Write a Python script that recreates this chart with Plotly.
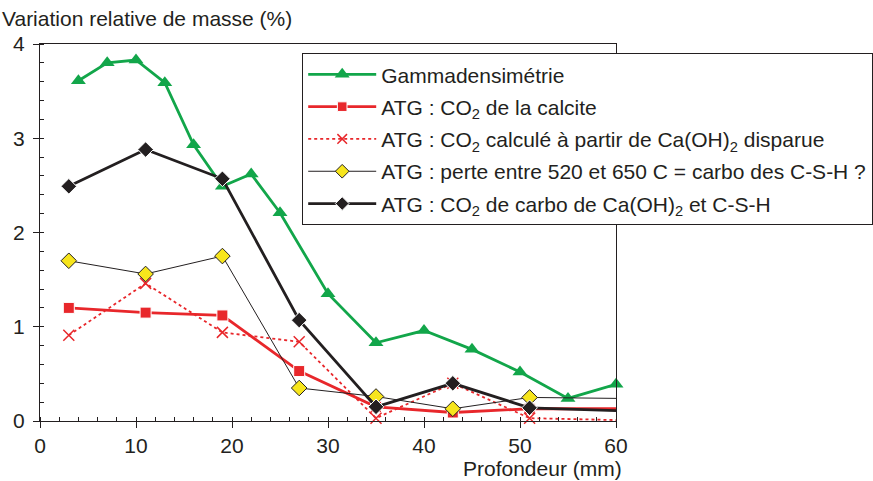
import plotly.graph_objects as go

# Data
gamma_x = [4, 7, 10, 13, 16, 19, 22, 25, 30, 35, 40, 45, 50, 55, 60]
gamma_y = [3.61, 3.80, 3.83, 3.59, 2.93, 2.49, 2.62, 2.21, 1.35, 0.83, 0.96, 0.76, 0.52, 0.24, 0.39]

calc_x = [3, 11, 19, 27, 35, 43, 51, 60]
calc_y = [1.20, 1.15, 1.12, 0.53, 0.15, 0.09, 0.13, 0.13]

ca_x = [3, 11, 19, 27, 35, 43, 51, 60]
ca_y = [0.91, 1.46, 0.94, 0.84, 0.03, 0.40, 0.03, 0.01]

perte_x = [3, 11, 19, 27, 35, 43, 51, 60]
perte_y = [1.70, 1.56, 1.75, 0.35, 0.26, 0.13, 0.25, 0.24]

carbo_x = [3, 11, 19, 27, 35, 43, 51, 60]
carbo_y = [2.49, 2.88, 2.57, 1.07, 0.15, 0.40, 0.14, 0.11]

names = [
    "Gammadensimétrie",
    "ATG : CO<sub>2</sub> de la calcite",
    "ATG : CO<sub>2</sub> calculé à partir de Ca(OH)<sub>2</sub> disparue",
    "ATG : perte entre 520 et 650 C = carbo des C-S-H ?",
    "ATG : CO<sub>2</sub> de carbo de Ca(OH)<sub>2</sub> et C-S-H",
]

GREEN = "#12a64a"
RED = "#e8272b"
BLACK = "#231f20"
YELLOW = "#f7e51c"
FONT = "Liberation Sans, Arial, Helvetica, sans-serif"
FS = 21


def end_sizes(n, s):
    return [s] * (n - 1) + [0]


fig = go.Figure()
fig.add_trace(go.Scatter(
    x=gamma_x, y=gamma_y, name=names[0], mode="lines+markers", legendgroup="g1",
    line=dict(color=GREEN, width=2.8),
    marker=dict(symbol="triangle-up", size=13, color=GREEN, opacity=1),
    cliponaxis=False))
fig.add_trace(go.Scatter(
    x=calc_x, y=calc_y, name=names[1], mode="lines+markers", legendgroup="g2",
    line=dict(color=RED, width=2.8),
    marker=dict(symbol="square", size=end_sizes(len(calc_x), 11), color=RED, opacity=1),
    cliponaxis=False))
fig.add_trace(go.Scatter(
    x=ca_x, y=ca_y, name=names[2], mode="lines+markers", legendgroup="g3",
    line=dict(color=RED, width=1.8, dash="dot"),
    marker=dict(symbol="x-thin", size=end_sizes(len(ca_x), 11), opacity=1,
                line=dict(color=RED, width=1.5), color=RED),
    cliponaxis=False))
fig.add_trace(go.Scatter(
    x=perte_x, y=perte_y, name=names[3], mode="lines+markers", legendgroup="g4",
    line=dict(color=BLACK, width=1),
    marker=dict(symbol="diamond", size=end_sizes(len(perte_x), 12), color=YELLOW, opacity=1,
                line=dict(color=BLACK, width=1)),
    cliponaxis=False))
fig.add_trace(go.Scatter(
    x=carbo_x, y=carbo_y, name=names[4], mode="lines+markers", legendgroup="g5",
    line=dict(color=BLACK, width=2.8),
    marker=dict(symbol="diamond", size=end_sizes(len(carbo_x), 12), color=BLACK, opacity=1),
    cliponaxis=False))

axis_common = dict(
    showline=True, linecolor=BLACK, linewidth=1.2, mirror=True,
    showgrid=False, zeroline=False,
    ticks="outside", ticklen=6, tickcolor=BLACK, tickwidth=1.2,
    tickfont=dict(family=FONT, size=FS, color=BLACK),
)

fig.update_xaxes(range=[0, 60], tickvals=[0, 10, 20, 30, 40, 50, 60],
                 minor=dict(dtick=2, ticks="inside", ticklen=4, tickcolor=BLACK, tickwidth=1),
                 **axis_common)
fig.update_yaxes(range=[0, 4], tickvals=[0, 1, 2, 3, 4], ticklabelstandoff=4,
                 minor=dict(dtick=0.2, ticks="inside", ticklen=4, tickcolor=BLACK, tickwidth=1),
                 **axis_common)

fig.update_layout(
    width=873, height=481,
    margin=dict(l=40, r=257, t=44, b=60, autoexpand=False),
    paper_bgcolor="white", plot_bgcolor="white",
    font=dict(family=FONT, size=FS, color=BLACK),
    showlegend=True,
    legend=dict(
        xref="container", yref="container",
        x=302 / 873, y=1 - 53 / 481, xanchor="left", yanchor="top",
        bgcolor="white", bordercolor=BLACK, borderwidth=1.2,
        font=dict(family=FONT, size=FS, color=BLACK),
        itemwidth=68, tracegroupgap=2,
    ),
    annotations=[
        dict(text="Variation relative de masse (%)", xref="paper", yref="paper",
             x=0, y=1, xanchor="left", yanchor="bottom", xshift=-40, yshift=12,
             showarrow=False, font=dict(family=FONT, size=FS, color=BLACK)),
        dict(text="Profondeur (mm)", xref="paper", yref="paper",
             x=1, y=0, xanchor="right", yanchor="middle", xshift=8, yshift=-47,
             showarrow=False, font=dict(family=FONT, size=FS, color=BLACK)),
    ],
)

fig.write_html("out.html")
